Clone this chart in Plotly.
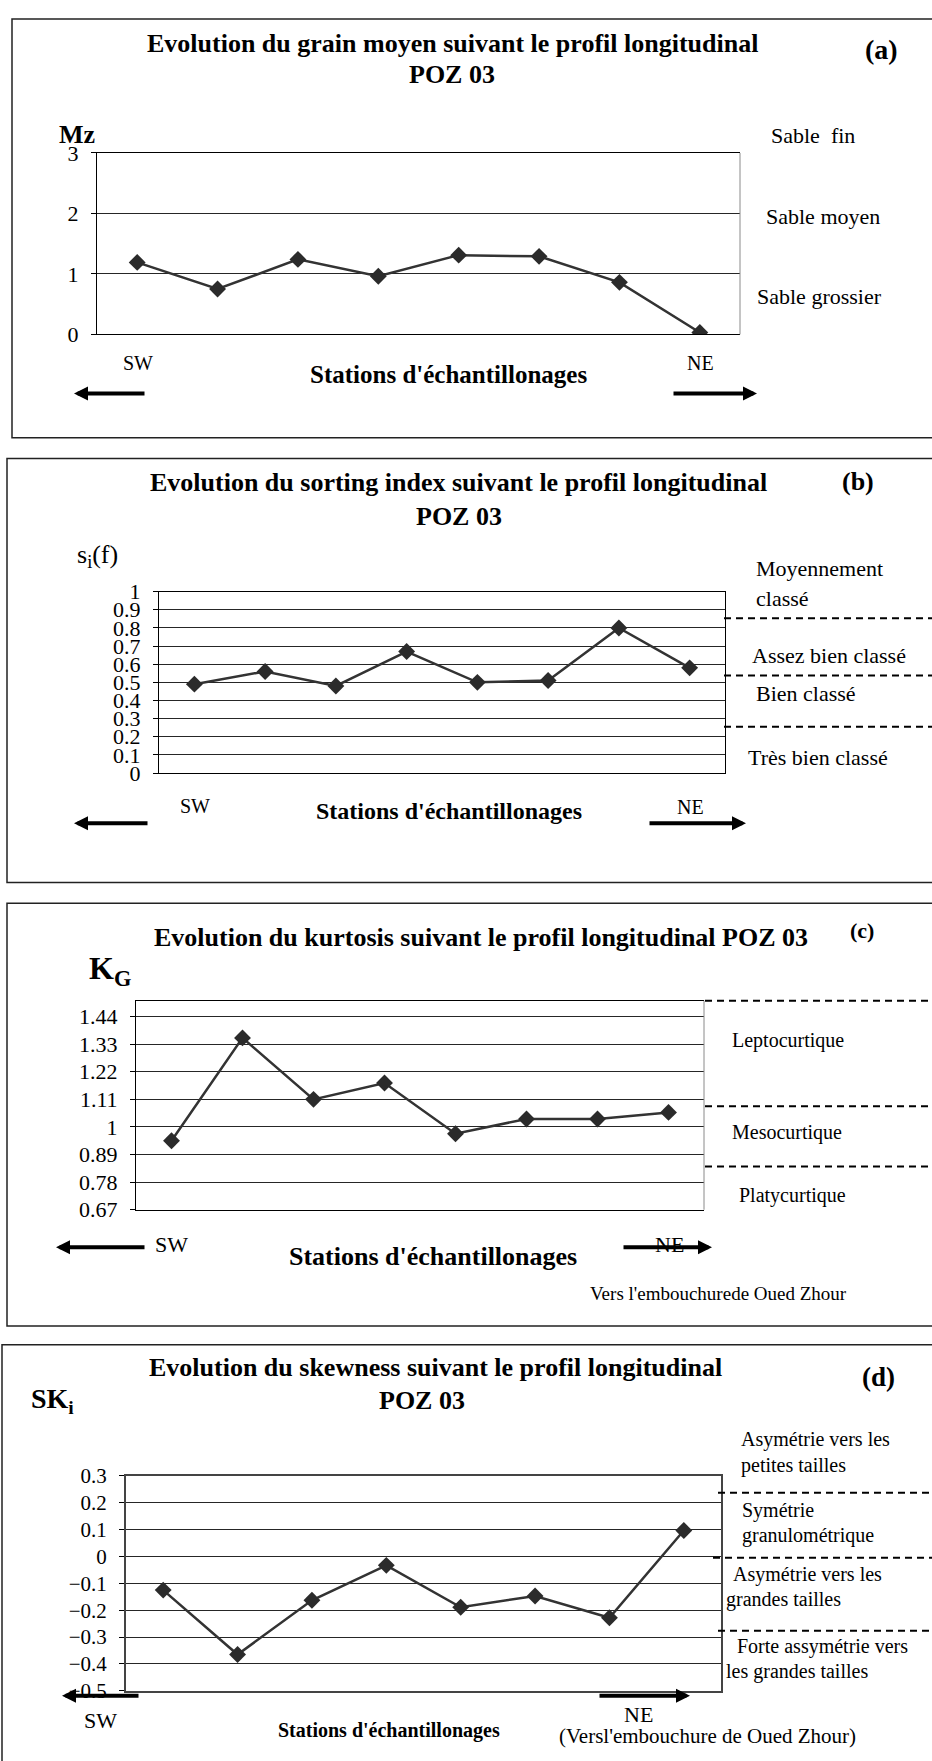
import plotly.graph_objects as go

W, H = 932, 1761
FONT = "Liberation Serif"

# stations d'échantillonnage, SW -> NE
stations = [1, 2, 3, 4, 5, 6, 7, 8]

# (a) grain moyen Mz
mz = [1.19, 0.75, 1.24, 0.96, 1.31, 1.29, 0.86, 0.03]
# (b) sorting index
sorting = [0.49, 0.56, 0.48, 0.67, 0.50, 0.51, 0.80, 0.58]
# (c) kurtosis KG
kurtosis = [0.945, 1.355, 1.11, 1.175, 0.973, 1.032, 1.032, 1.058]
# (d) skewness SKi
skewness = [-0.125, -0.365, -0.163, -0.033, -0.189, -0.147, -0.228, 0.097]

kg_tickvals = [0.67, 0.78, 0.89, 1.0, 1.11, 1.22, 1.33, 1.44]
kg_ticktext = ["0.67", "0.78", "0.89", "1", "1.11", "1.22", "1.33", "1.44"]


def px(x):
    return x / W


def py(y):
    return 1 - y / H


def txt(s, x, y, size, bold=False, xanchor="center"):
    if bold:
        s = "<b>" + s + "</b>"
    return dict(text=s, x=px(x), y=py(y), xref="paper", yref="paper",
                xanchor=xanchor, yanchor="middle", showarrow=False,
                font=dict(family=FONT, size=size, color="black"))


def arrow(x_head, x_tail, y):
    return dict(text="", x=px(x_head), y=py(y), xref="paper", yref="paper",
                ax=x_tail - x_head, ay=0, axref="pixel", ayref="pixel",
                showarrow=True, arrowhead=2, arrowwidth=4, arrowsize=0.7,
                arrowcolor="black", standoff=0, startstandoff=0)


def dashed(x0, y):
    return dict(type="line", xref="paper", yref="paper",
                x0=px(x0), x1=px(W + 5), y0=py(y), y1=py(y),
                line=dict(color="black", width=2, dash="7px,5px"))


def frame(x0, y0, y1):
    return dict(type="rect", xref="paper", yref="paper",
                x0=px(x0), x1=px(W + 10), y0=py(y1), y1=py(y0),
                line=dict(color="#222222", width=1.5))


fig = go.Figure()

# panel geometry: left, right, top, bottom (pixels)
panels = [
    dict(vals=mz, box=(97, 740, 143, 327), yr=[0, 3], dtick=1, fs=22,
         line="black", lw=1, ymirror=False),
    dict(vals=sorting, box=(159, 725, 588, 772), yr=[0, 1], dtick=0.1, fs=22,
         line="black", lw=1, ymirror=True),
    dict(vals=kurtosis, box=(136, 704, 1003, 1215), yr=[0.67, 1.503], dtick=None, fs=22,
         line="black", lw=1, ymirror=False),
    dict(vals=skewness, box=(126, 721, 1485, 1703), yr=[-0.5, 0.3], dtick=0.1, fs=21,
         line="#444444", lw=2, ymirror=True),
]

shapes = []
for i, p in enumerate(panels, start=1):
    sfx = "" if i == 1 else str(i)
    l, r, t, b = p["box"]
    fig.add_trace(go.Scatter(
        x=stations, y=p["vals"], mode="lines+markers",
        line=dict(color="#333333", width=2.5),
        marker=dict(symbol="diamond", size=13, color="#2b2b2b"),
        xaxis="x" + sfx, yaxis="y" + sfx, showlegend=False, hoverinfo="skip"))
    xa = dict(domain=[px(l), px(r)], range=[0.5, 8.5], anchor="y" + sfx,
              showticklabels=False, showgrid=False, zeroline=False, ticks="",
              showline=True, linecolor=p["line"], linewidth=p["lw"], mirror=True)
    ya = dict(domain=[py(b), py(t)], range=p["yr"], anchor="x" + sfx,
              showgrid=True, gridcolor="#262626", gridwidth=1, zeroline=False,
              showline=True, linecolor=p["line"], linewidth=p["lw"],
              mirror=p["ymirror"], ticks="outside", ticklen=5, tickcolor="black",
              ticklabelstandoff=8,
              tickfont=dict(family=FONT, size=p["fs"], color="black"))
    if p["dtick"] is None:
        ya.update(tickmode="array", tickvals=kg_tickvals, ticktext=kg_ticktext)
    else:
        ya.update(tick0=p["yr"][0], dtick=p["dtick"])
    fig.update_layout({"xaxis" + sfx: xa, "yaxis" + sfx: ya})
    if not p["ymirror"]:
        shapes.append(dict(type="line", xref="x" + sfx + " domain", yref="y" + sfx + " domain",
                           x0=1, x1=1, y0=0, y1=1, line=dict(color="#8a8a8a", width=1)))

# panel frames
shapes += [frame(12, 7, 432), frame(7, 453, 883), frame(7, 904, 1333), frame(2, 1352, 1800)]
# class limits
shapes += [dashed(724, 615), dashed(724, 673), dashed(724, 725)]
shapes += [dashed(705, 1003), dashed(705, 1110), dashed(705, 1171)]
shapes += [dashed(718, 1502), dashed(713, 1568), dashed(718, 1642)]

ann = [
    # (a)
    txt("Evolution du grain moyen suivant le profil longitudinal", 452, 32, 26, True),
    txt("POZ 03", 452, 63, 26, True),
    txt("(a)", 881, 38, 28, True),
    txt("Mz", 77, 124, 26, True),
    txt("Sable  fin", 813, 125, 22),
    txt("Sable moyen", 823, 207, 22),
    txt("Sable grossier", 819, 289, 22),
    txt("SW", 138, 356, 20),
    txt("NE", 700, 356, 20),
    txt("Stations d'échantillonages", 448, 368, 25, True),
    arrow(74, 146, 387),
    arrow(757, 672, 387),
    # (b)
    txt("Evolution du sorting index suivant le profil longitudinal", 458, 477, 26, True),
    txt("POZ 03", 459, 512, 26, True),
    txt("(b)", 858, 476, 26, True),
    txt("s<sub>i</sub>(f)", 97, 552, 26),
    txt("Moyennement", 754, 565, 22, xanchor="left"),
    txt("classé", 754, 595, 22, xanchor="left"),
    txt("Assez bien classé", 750, 653, 22, xanchor="left"),
    txt("Bien classé", 754, 691, 22, xanchor="left"),
    txt("Très bien classé", 746, 756, 22, xanchor="left"),
    txt("SW", 195, 805, 20),
    txt("NE", 690, 806, 20),
    txt("Stations d'échantillonages", 449, 810, 24, True),
    arrow(74, 149, 823),
    arrow(746, 648, 823),
    # (c)
    txt("Evolution du kurtosis suivant le profil longitudinal POZ 03", 481, 939, 26, True),
    txt("(c)", 862, 932, 22, True),
    txt("K<sub>G</sub>", 110, 972, 32, True),
    txt("Leptocurtique", 788, 1043, 20),
    txt("Mesocurtique", 787, 1137, 20),
    txt("Platycurtique", 792, 1201, 20),
    txt("SW", 171, 1250, 22),
    txt("NE", 669, 1250, 22),
    txt("Stations d'échantillonages", 433, 1262, 26, True),
    txt("Vers l'embouchurede Oued Zhour", 718, 1300, 19),
    arrow(56, 146, 1253),
    arrow(712, 622, 1253),
    # (d)
    txt("Evolution du skewness suivant le profil longitudinal", 435, 1375, 26, True),
    txt("POZ 03", 422, 1408, 26, True),
    txt("(d)", 878, 1385, 27, True),
    txt("SK<sub>i</sub>", 52, 1408, 28, True),
    txt("Asymétrie vers les", 739, 1448, 20, xanchor="left"),
    txt("petites tailles", 739, 1474, 20, xanchor="left"),
    txt("Symétrie", 740, 1520, 20, xanchor="left"),
    txt("granulométrique", 740, 1545, 20, xanchor="left"),
    txt("Asymétrie vers les", 731, 1585, 20, xanchor="left"),
    txt("grandes tailles", 724, 1610, 20, xanchor="left"),
    txt("Forte assymétrie vers", 735, 1658, 20, xanchor="left"),
    txt("les grandes tailles", 724, 1683, 20, xanchor="left"),
    txt("SW", 100, 1733, 22),
    txt("NE", 638, 1727, 22),
    txt("Stations d'échantillonages", 389, 1743, 20, True),
    txt("(Versl'embouchure de Oued Zhour)", 707, 1749, 21),
    arrow(62, 140, 1708),
    arrow(690, 598, 1708),
]

fig.update_layout(
    width=W, height=H, autosize=False,
    margin=dict(l=0, r=0, t=0, b=0),
    paper_bgcolor="white", plot_bgcolor="white",
    font=dict(family=FONT, color="black"),
    shapes=shapes, annotations=ann,
)

# drop the default page margin so the figure sits at the window's corner
fig.write_html("out.html", config={"displayModeBar": False},
               post_script="document.body.style.margin='0px';")
